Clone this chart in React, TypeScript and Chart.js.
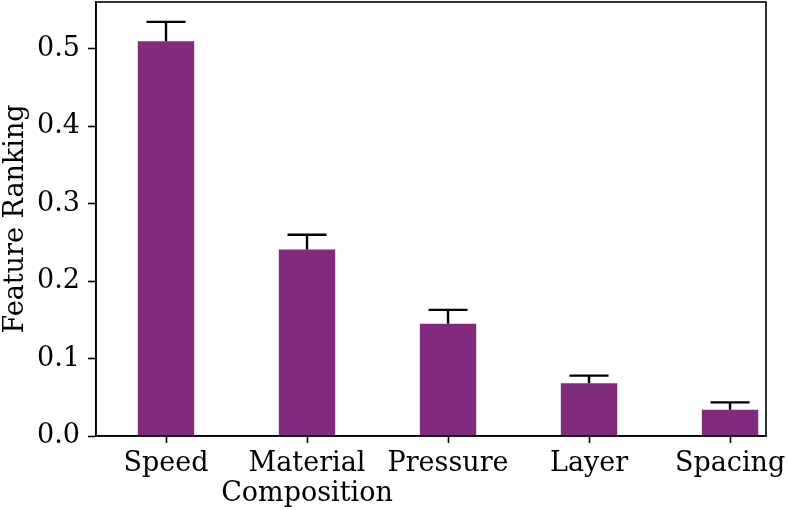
import React, { useEffect, useRef } from "react";
import { Chart, registerables } from "chart.js";

Chart.register(...registerables);

const categories: string[][] = [["Speed"], ["Material", "Composition"], ["Pressure"], ["Layer"], ["Spacing"]];
const values: number[] = [0.51, 0.241, 0.145, 0.068, 0.034];
const errors: number[] = [0.025, 0.019, 0.018, 0.010, 0.0095];
const yTicks: number[] = [0.0, 0.1, 0.2, 0.3, 0.4, 0.5];

const FONT = "'DejaVu Serif', serif";
const BAR_COLOR = "#812a7e";

const frameAndErrors = {
  id: "frameAndErrors",
  afterDatasetsDraw(chart: any) {
    const { ctx, chartArea, scales } = chart;
    ctx.save();
    ctx.strokeStyle = "#000";
    ctx.lineWidth = 2.4;
    const capHalf = 19.5;
    values.forEach((v, i) => {
      const x = scales.x.getPixelForValue(i);
      const y0 = scales.y.getPixelForValue(v);
      const y1 = scales.y.getPixelForValue(v + errors[i]);
      ctx.beginPath();
      ctx.moveTo(x, y0);
      ctx.lineTo(x, y1);
      ctx.moveTo(x - capHalf, y1);
      ctx.lineTo(x + capHalf, y1);
      ctx.stroke();
    });
    ctx.lineWidth = 1.6;
    ctx.strokeRect(chartArea.left, chartArea.top, chartArea.right - chartArea.left, chartArea.bottom - chartArea.top);
    ctx.restore();
  },
};

export default function App() {
  const ref = useRef<HTMLCanvasElement | null>(null);
  useEffect(() => {
    if (!ref.current) return;
    const chart = new Chart(ref.current, {
      type: "bar",
      data: {
        datasets: [
          {
            data: values.map((v, i) => ({ x: i, y: v })),
            backgroundColor: BAR_COLOR,
            borderWidth: 0,
            barPercentage: 0.4,
            categoryPercentage: 1,
          },
        ],
      },
      options: {
        animation: false,
        responsive: false,
        maintainAspectRatio: false,
        layout: { padding: { top: 2, right: 22, left: 0, bottom: 0 } },
        plugins: { legend: { display: false }, tooltip: { enabled: false } },
        scales: {
          x: {
            type: "linear",
            offset: false,
            min: -0.4965,
            max: 4.255,
            afterBuildTicks: (scale: any) => {
              scale.ticks = categories.map((_, i) => ({ value: i }));
            },
            afterFit: (scale: any) => {
              scale.height = 74;
              scale.paddingLeft = 0;
              scale.paddingRight = 0;
            },
            border: { display: true, color: "#000", width: 1.6 },
            grid: { display: true, offset: false, drawOnChartArea: false, drawTicks: true, tickLength: 7, tickColor: "#000", tickWidth: 1.6 },
            ticks: {
              color: "#000",
              font: { family: FONT, size: 27, lineHeight: 1.12 },
              padding: 6,
              maxRotation: 0,
              autoSkip: false,
              callback: (v: any) => {
                const c = categories[Math.round(Number(v))];
                return c ? (c.length > 1 ? c : c[0]) : "";
              },
            },
          },
          y: {
            min: 0,
            max: 0.5607,
            afterBuildTicks: (scale: any) => {
              scale.ticks = yTicks.map((t) => ({ value: t }));
            },
            afterFit: (scale: any) => {
              scale.width = 96;
              scale.paddingTop = 0;
              scale.paddingBottom = 0;
            },
            border: { display: true, color: "#000", width: 1.6 },
            grid: { display: true, drawOnChartArea: false, drawTicks: true, tickLength: 8, tickColor: "#000", tickWidth: 1.6 },
            ticks: {
              color: "#000",
              font: { family: FONT, size: 27 },
              padding: 8,
              callback: (v: any) => Number(v).toFixed(1),
            },
            title: {
              display: true,
              text: "Feature Ranking",
              color: "#000",
              font: { family: FONT, size: 27 },
              padding: { top: 0, bottom: 0 },
            },
          },
        },
      },
      plugins: [frameAndErrors],
    } as any);
    return () => chart.destroy();
  }, []);
  return (
    <div style={{ position: "fixed", left: 0, top: 0, width: 788, height: 510, background: "#fff" }}>
      <canvas ref={ref} width={788} height={510} style={{ width: 788, height: 510 }} />
    </div>
  );
}
